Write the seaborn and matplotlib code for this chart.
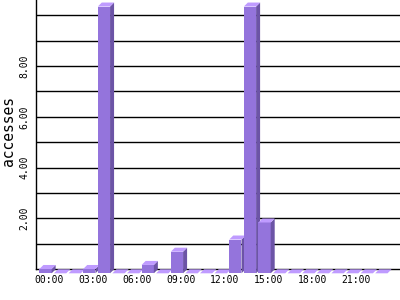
import matplotlib
matplotlib.use("Agg")
import matplotlib.pyplot as plt
import seaborn as sns
import pandas as pd
from matplotlib.patches import Polygon

# ---- data ----
hours = ["00:00", "01:00", "02:00", "03:00", "04:00", "05:00", "06:00", "07:00",
         "08:00", "09:00", "10:00", "11:00", "12:00", "13:00", "14:00", "15:00",
         "16:00", "17:00", "18:00", "19:00", "20:00", "21:00", "22:00", "23:00"]
accesses = [0.17, 0, 0, 0.17, 10.5, 0, 0, 0.33, 0, 0.85, 0, 0, 0, 1.33, 10.5, 2.0,
            0, 0, 0, 0, 0, 0, 0, 0]
xtick_labels = ["00:00", "03:00", "06:00", "09:00", "12:00", "15:00", "18:00", "21:00"]
ytick_values = [1, 2, 3, 4, 5, 6, 7, 8, 9, 10]
ytick_labels = ["", "2.00", "", "4.00", "", "6.00", "", "8.00", "", ""]
ylabel = "accesses"

FRONT = "#9474DC"
SIDE = "#6C54A6"
TOP = "#BF9BFF"

df = pd.DataFrame({"hour": hours, "accesses": accesses})

W, H = 400, 300
fig = plt.figure(figsize=(4, 3), dpi=100)
ax_l, ax_b = 35.5, 30.7
ax_w, ax_h = W - ax_l, H - ax_b
ax = fig.add_axes([ax_l / W, ax_b / H, ax_w / W, ax_h / H])

bar_w = 0.84
sns.barplot(data=df, x="hour", y="accesses", order=hours, color=FRONT,
            saturation=1, width=bar_w, linewidth=0, ax=ax)

xmin, xmax = -0.96, 24.0
ymin, ymax = 0, 10.6
ax.set_xlim(xmin, xmax)
ax.set_ylim(ymin, ymax)

# 3-D depth in pixels, converted to data units
d_px = 4.0
dxd = d_px * (xmax - xmin) / ax_w
dyd = d_px * (ymax - ymin) / ax_h

for i, (patch, v) in enumerate(zip(ax.patches, accesses)):
    z = 3 + 0.01 * i
    x0 = patch.get_x()
    w = patch.get_width()
    x1 = x0 + w
    # front face shifted down-left
    patch.set_x(x0 - dxd)
    patch.set_y(ymin - dyd)
    patch.set_height(v)
    patch.set_clip_on(False)
    patch.set_zorder(z)
    top = Polygon([(x0 - dxd, v - dyd), (x1 - dxd, v - dyd), (x1, v), (x0, v)],
                  closed=True, facecolor=TOP, edgecolor="none", zorder=z, clip_on=False)
    side = Polygon([(x1 - dxd, -dyd), (x1, 0), (x1, v), (x1 - dxd, v - dyd)],
                   closed=True, facecolor=SIDE, edgecolor="none", zorder=z, clip_on=False)
    ax.add_patch(side)
    ax.add_patch(top)

# ticks
ax.set_xticks([hours.index(h) for h in xtick_labels])
ax.set_xticklabels(xtick_labels, fontfamily="DejaVu Sans Mono", fontsize=7)
ax.set_yticks(ytick_values)
ax.set_yticklabels(ytick_labels, fontfamily="DejaVu Sans Mono", fontsize=7,
                   rotation=90, va="center")
ax.tick_params(axis="x", length=0, pad=4, colors="black")
ax.tick_params(axis="y", length=0, pad=4.5, colors="black")

ax.set_xlabel("")
ax.set_ylabel(ylabel, fontfamily="DejaVu Sans Mono", fontsize=10.5, color="black",
              va="center", ha="center")
ax.yaxis.label.set_rotation_mode("anchor")
ax.yaxis.set_label_coords((8.5 - ax_l) / ax_w, (H - ax_b - 131) / ax_h)

ax.set_axisbelow(True)
ax.grid(axis="y", color="black", linewidth=1.0)
ax.grid(axis="x", visible=False)
for s in ["top", "right"]:
    ax.spines[s].set_visible(False)
for s in ["left", "bottom"]:
    ax.spines[s].set_color("black")
    ax.spines[s].set_linewidth(1.0)
ax.set_facecolor("white")
fig.patch.set_facecolor("white")

fig.savefig("out.png", dpi=100)
